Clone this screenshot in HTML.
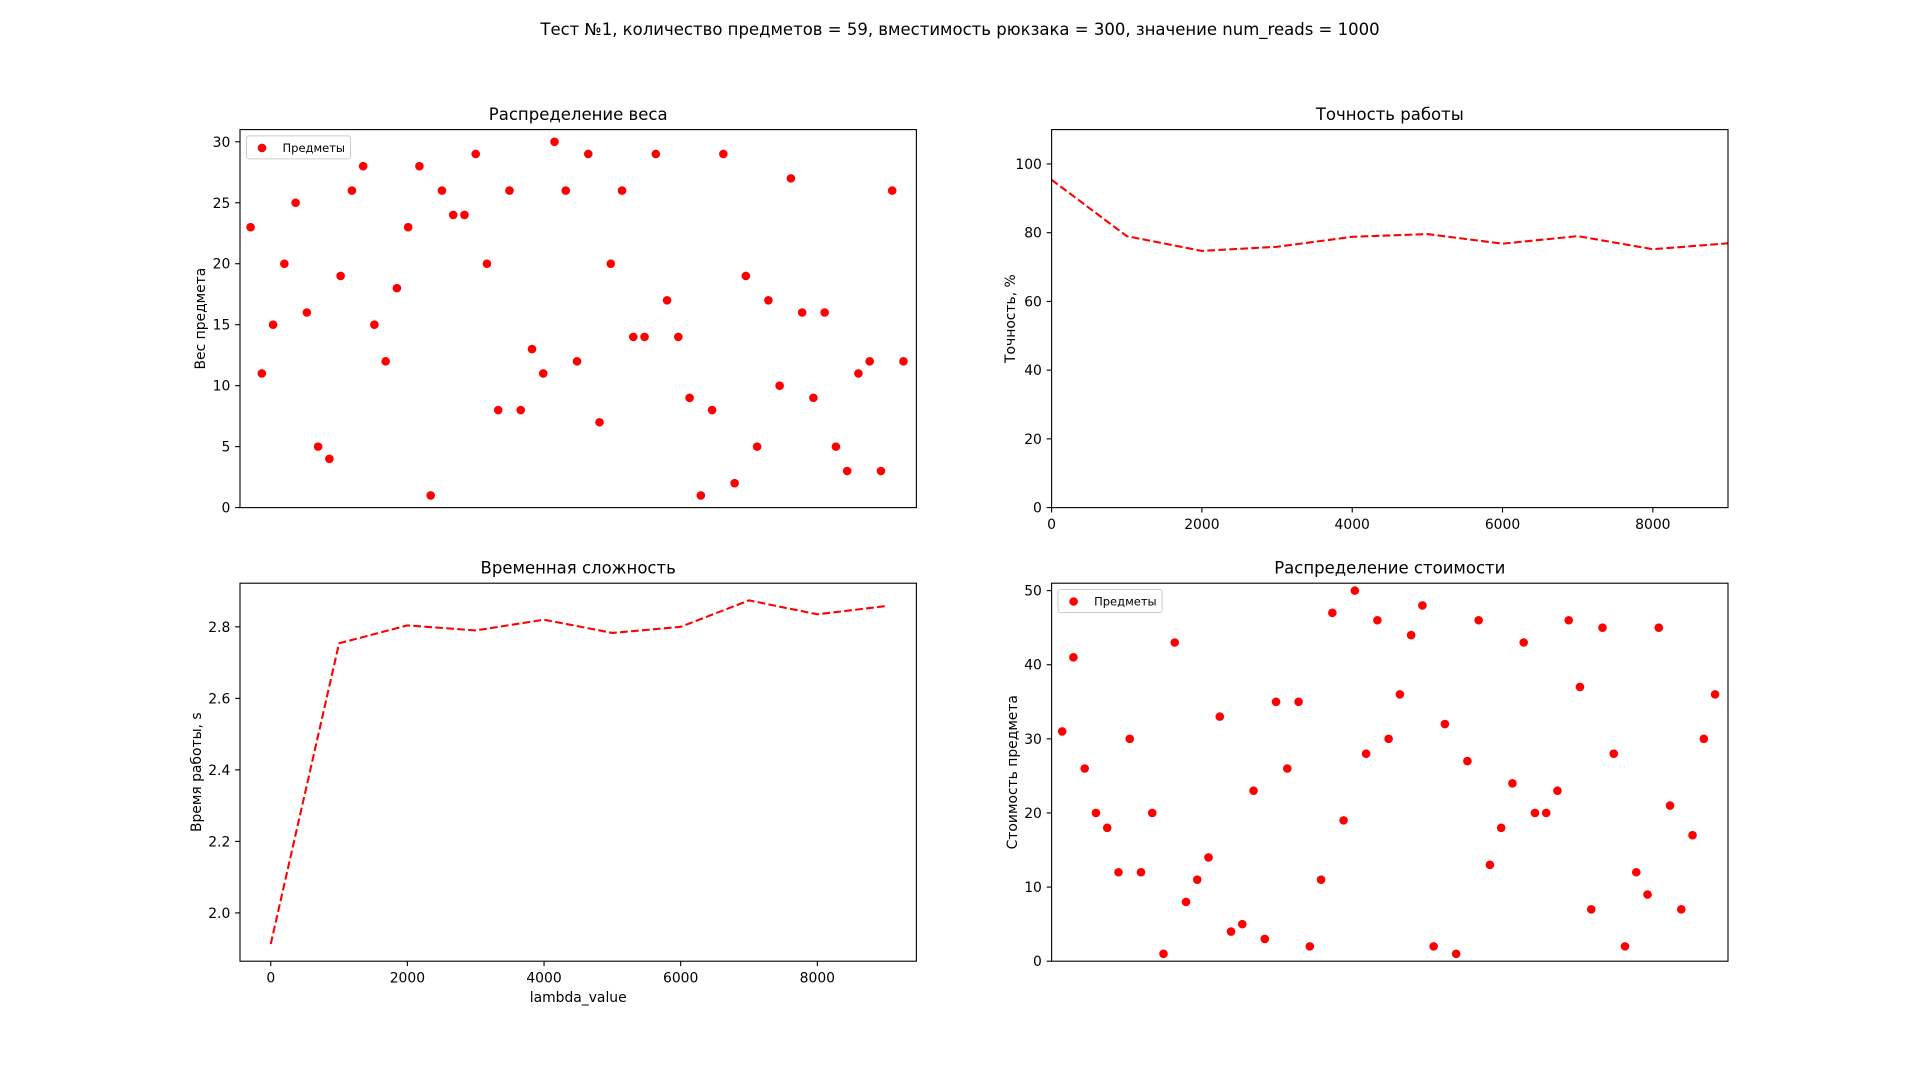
<!DOCTYPE html>
<html><head><meta charset="utf-8"><title>Knapsack test</title>
<style>
html,body{margin:0;padding:0;background:#fff;}
svg{display:block;font-family:"DejaVu Sans","Liberation Sans",sans-serif;}
</style></head>
<body>
<svg id="fig" width="1920" height="1080" viewBox="0 0 1920 1080" xmlns="http://www.w3.org/2000/svg">
<rect width="1920" height="1080" fill="#fff"/>
<text x="960" y="35" text-anchor="middle" font-size="16.5">Тест №1, количество предметов = 59, вместимость рюкзака = 300, значение num_reads = 1000</text>
</svg>
<script>
// ---- data ----
const weights = [23,11,15,20,25,16,5,4,19,26,28,15,12,18,23,28,1,26,24,24,29,20,8,26,8,13,11,30,26,12,29,7,20,26,14,14,29,17,14,9,1,8,29,2,19,5,17,10,27,16,9,16,5,3,11,12,3,26,12];
const costs = [31,41,26,20,18,12,30,12,20,1,43,8,11,14,33,4,5,23,3,35,26,35,2,11,47,19,50,28,46,30,36,44,48,2,32,1,27,46,13,18,24,43,20,20,23,46,37,7,45,28,2,12,9,45,21,7,17,30,36];
const lambdaValues = [0,1000,2000,3000,4000,5000,6000,7000,8000,9000];
const accuracy = [95.4,79.0,74.7,75.9,78.8,79.6,76.8,79.0,75.2,76.9];
const runtime = [1.913,2.754,2.804,2.790,2.820,2.783,2.800,2.874,2.835,2.858];
const weightTicks = [0,5,10,15,20,25,30];
const costTicks = [0,10,20,30,40,50];
const accTicks = [0,20,40,60,80,100];
const timeTicks = [2.0,2.2,2.4,2.6,2.8];
const lambdaTicks = [0,2000,4000,6000,8000];

const NS = "http://www.w3.org/2000/svg";
const svg = document.getElementById('fig');
function el(tag, attrs, parent){
  const e = document.createElementNS(NS, tag);
  for (const k in attrs) e.setAttribute(k, attrs[k]);
  (parent||svg).appendChild(e);
  return e;
}
const FS = 13.9;
const L1 = 240, R1 = 916.4, L2 = 1051.6, R2 = 1728;
const T1 = 129.6, B1 = 507.6, T2 = 583.2, B2 = 961.2;

function makeAxes(name, x0, x1, y0, y1, xmin, xmax, ymin, ymax){
  const g = el('g', {});
  
  
  return {g, x0, x1, y0, y1,
    sx: v => x0 + (v - xmin) / (xmax - xmin) * (x1 - x0),
    sy: v => y1 - (v - ymin) / (ymax - ymin) * (y1 - y0)};
}
function frame(ax, title){
  const r = el('rect', {x:ax.x0, y:ax.y0, width:ax.x1-ax.x0, height:ax.y1-ax.y0, fill:'none', stroke:'#000', 'stroke-width':1.1}, ax.g);
  
  
  const t = el('text', {x:(ax.x0+ax.x1)/2, y:ax.y0-9.5, 'text-anchor':'middle', 'font-size':16.5}, ax.g);
  t.textContent = title;
  
  
}
function yTicks(ax, ticks, fmt, label, labelX){
  ticks.forEach(v => {
    const y = ax.sy(v);
    el('line', {x1:ax.x0-4.9, x2:ax.x0, y1:y, y2:y, stroke:'#000', 'stroke-width':1.1}, ax.g);
    const t = el('text', {x:ax.x0-9.7, y:y+5, 'text-anchor':'end', 'font-size':FS}, ax.g);
    t.textContent = fmt(v);
    
    
  });
  const cy = (ax.y0+ax.y1)/2;
  const t = el('text', {x:labelX, y:cy, 'text-anchor':'middle', 'font-size':FS, transform:`rotate(-90 ${labelX} ${cy})`, 'dominant-baseline':'central'}, ax.g);
  t.textContent = label;
  
  
}
function xTicks(ax, ticks){
  ticks.forEach(v => {
    const x = ax.sx(v);
    el('line', {x1:x, x2:x, y1:ax.y1, y2:ax.y1+4.9, stroke:'#000', 'stroke-width':1.1}, ax.g);
    const t = el('text', {x:x, y:ax.y1+21.5, 'text-anchor':'middle', 'font-size':FS}, ax.g);
    t.textContent = String(v);
    
    
  });
}
function scatter(ax, vals){
  vals.forEach((v, i) => {
    const c = el('circle', {cx:ax.sx(i), cy:ax.sy(v), r:4.3, fill:'#ff0000'}, ax.g);
    
    
  });
}
function legend(ax){
  const lg = el('g', {}, ax.g);
  
  
  const bx = ax.x0 + 6.5, by = ax.y0 + 6.3;
  el('rect', {x:bx, y:by, width:104, height:23, rx:2.5, fill:'#fff', 'fill-opacity':0.8, stroke:'#ccc', 'stroke-width':1}, lg);
  el('circle', {cx:bx+15.5, cy:by+12, r:4.3, fill:'#ff0000'}, lg);
  const t = el('text', {x:bx+36, y:by+16, 'font-size':11.5}, lg);
  t.textContent = 'Предметы';
  
  
}
function line(ax, xs, ys){
  const d = xs.map((x, i) => (i ? 'L' : 'M') + ax.sx(x).toFixed(2) + ' ' + ax.sy(ys[i]).toFixed(2)).join(' ');
  const p = el('path', {d, fill:'none', stroke:'#ff0000', 'stroke-width':2.08, 'stroke-dasharray':'7.7 3.3'}, ax.g);
  
  
}

// Weight distribution
const n = weights.length;
const axA = makeAxes('weight-distribution-chart', L1, R1, T1, B1, -0.94, n + 0.15, 0, Math.max(...weights) + 1);
scatter(axA, weights);
frame(axA, 'Распределение веса');
yTicks(axA, weightTicks, v => String(v), 'Вес предмета', 201);
legend(axA);

// Accuracy
const axB = makeAxes('accuracy-chart', L2, R2, T1, B1, lambdaValues[0], lambdaValues[lambdaValues.length-1], 0, 110);
line(axB, lambdaValues, accuracy);
frame(axB, 'Точность работы');
yTicks(axB, accTicks, v => String(v), 'Точность, %', 1011);
xTicks(axB, lambdaTicks);

// Runtime
const lmin = Math.min(...lambdaValues), lmax = Math.max(...lambdaValues);
const rmin = Math.min(...runtime), rmax = Math.max(...runtime);
const axC = makeAxes('runtime-chart', L1, R1, T2, B2, lmin - 0.05*(lmax-lmin), lmax + 0.05*(lmax-lmin), rmin - 0.05*(rmax-rmin), rmax + 0.05*(rmax-rmin));
line(axC, lambdaValues, runtime);
frame(axC, 'Временная сложность');
yTicks(axC, timeTicks, v => v.toFixed(1), 'Время работы, s', 197);
xTicks(axC, lambdaTicks);
const xl = el('text', {x:(L1+R1)/2, y:B2+41, 'text-anchor':'middle', 'font-size':FS}, axC.g);
xl.textContent = 'lambda_value';



// Cost distribution
const axD = makeAxes('cost-distribution-chart', L2, R2, T2, B2, -0.94, costs.length + 0.15, 0, Math.max(...costs) + 1);
scatter(axD, costs);
frame(axD, 'Распределение стоимости');
yTicks(axD, costTicks, v => String(v), 'Стоимость предмета', 1013);
legend(axD);
</script>
</body></html>
